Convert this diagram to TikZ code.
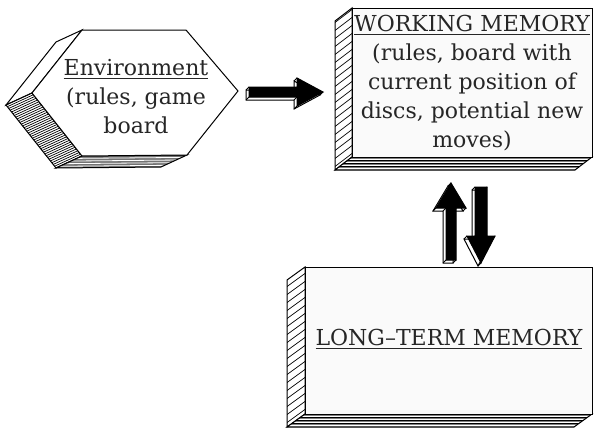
\documentclass[tikz,border=0pt]{standalone}
\usepackage{fontspec}
\setmainfont{DejaVu Serif}
\begin{document}
\begin{tikzpicture}[x=0.5pt,y=-0.5pt,
  edge/.style={line width=0.5pt, line join=miter},
  hatchline/.style={line width=0.35pt},
  pageline/.style={line width=0.4pt},
  lbl/.style={font=\fontsize{11}{14.5}\selectfont, align=center, inner sep=0pt, text=black!85},
]
\useasboundingbox (0,0) rectangle (594,428);

% ---------- Environment hexagon ----------
% face A (upper left side), white
\draw[edge, fill=white] (82,30) -- (32,93) -- (6,105) -- (56,42) -- cycle;
% face B (lower left side), hatched along depth
\begin{scope}
  \clip (32,93) -- (82,156) -- (56,168) -- (6,105) -- cycle;
  \fill[white] (0,80) rectangle (90,175);
  \foreach \i in {0,...,36}{
    \draw[hatchline] ({32+50*\i/36+6},{93+63*\i/36-2.8}) -- ++(-38,17.5);
  }
\end{scope}
\draw[edge] (32,93) -- (82,156) -- (56,168) -- (6,105) -- cycle;
% face C (bottom side), page stripes
\begin{scope}
  \clip (82,156) -- (187,155) -- (161,167) -- (56,168) -- cycle;
  \fill[black!55] (50,150) rectangle (195,175);
  \foreach \s in {0.2,0.42,0.64,0.86}{
    \draw[pageline, white] ({82-26*\s},{156+12*\s}) -- ({187-26*\s},{155+12*\s});
  }
\end{scope}
\draw[edge] (82,156) -- (187,155) -- (161,167) -- (56,168) -- cycle;
% front face
\draw[edge, fill=white] (82,30) -- (186,30) -- (238,91) -- (187,155) -- (82,156) -- (32,93) -- cycle;
\node[lbl] (env) at (136,96.5) {\underline{Environment}\\(rules, game\\board};

% ---------- Working memory slab ----------
\begin{scope}
  \clip (352,8) -- (352,157) -- (335,170) -- (335,21) -- cycle;
  \fill[white] (330,0) rectangle (355,175);
  \foreach \y in {0,8,...,184}{
    \draw[hatchline] (354,\y) -- (333,{\y+16});
  }
\end{scope}
\draw[edge] (352,8) -- (352,157) -- (335,170) -- (335,21) -- cycle;
\begin{scope}
  \clip (352,157) -- (592,157) -- (575,170) -- (335,170) -- cycle;
  \fill[black!50] (330,150) rectangle (594,175);
  \foreach \s in {0.15,0.4,0.65,0.88}{
    \draw[pageline, white] (330,{157+13*\s}) -- (594,{157+13*\s});
  }
  \foreach \s in {0.28,0.52,0.76}{
    \draw[pageline, black] (330,{157+13*\s}) -- (594,{157+13*\s});
  }
\end{scope}
\draw[edge] (352,157) -- (592,157) -- (575,170) -- (335,170) -- cycle;
\draw[edge, fill=gray!4] (352,8) rectangle (592,157);
\node[lbl] (wm) at (472,83) {\underline{WORKING MEMORY}\\(rules, board with\\current position of\\discs, potential new\\moves)};

% ---------- Long-term memory slab ----------
\begin{scope}
  \clip (305,267) -- (305,414) -- (287,427) -- (287,280) -- cycle;
  \fill[white] (280,260) rectangle (310,428);
  \foreach \y in {256,264,...,436}{
    \draw[hatchline] (307,\y) -- (285,{\y+16});
  }
\end{scope}
\draw[edge] (305,267) -- (305,414) -- (287,427) -- (287,280) -- cycle;
\begin{scope}
  \clip (305,414) -- (592,414) -- (574,427) -- (287,427) -- cycle;
  \fill[black!50] (280,410) rectangle (594,428);
  \foreach \s in {0.15,0.4,0.65,0.88}{
    \draw[pageline, white] (280,{414+13*\s}) -- (594,{414+13*\s});
  }
  \foreach \s in {0.28,0.52,0.76}{
    \draw[pageline, black] (280,{414+13*\s}) -- (594,{414+13*\s});
  }
\end{scope}
\draw[edge] (305,414) -- (592,414) -- (574,427) -- (287,427) -- cycle;
\draw[edge, fill=gray!4] (305,267) rectangle (592,414);
\node[lbl] (ltm) at (449,339) {\underline{LONG–TERM MEMORY}};

% ---------- block arrow: environment -> working memory ----------
\draw[edge, fill=white, shift={(-3,3)}] (249,87) -- (297,87) -- (297,78) -- (323,92) -- (297,106) -- (297,97) -- (249,97) -- cycle;
\foreach \x/\y in {249/87,297/78,323/92,297/106,297/97,249/97}{
  \draw[edge] (\x,\y) -- ++(-3,3);
}
\draw[edge, fill=black] (249,87) -- (297,87) -- (297,78) -- (323,92) -- (297,106) -- (297,97) -- (249,97) -- cycle;

% ---------- block arrow: long-term -> working (up) ----------
\draw[edge, fill=white, shift={(-3,3)}] (446,260) -- (446,208) -- (436,208) -- (451,183) -- (466,208) -- (456,208) -- (456,260) -- cycle;
\foreach \x/\y in {446/260,446/208,436/208,451/183,466/208,456/208,456/260}{
  \draw[edge] (\x,\y) -- ++(-3,3);
}
\draw[edge, fill=black] (446,260) -- (446,208) -- (436,208) -- (451,183) -- (466,208) -- (456,208) -- (456,260) -- cycle;

% ---------- block arrow: working -> long-term (down) ----------
\draw[edge, fill=white, shift={(-3,3)}] (475,187) -- (487,187) -- (487,236) -- (495,236) -- (481,263) -- (467,236) -- (475,236) -- cycle;
\foreach \x/\y in {475/187,487/187,487/236,495/236,481/263,467/236,475/236}{
  \draw[edge] (\x,\y) -- ++(-3,3);
}
\draw[edge, fill=black] (475,187) -- (487,187) -- (487,236) -- (495,236) -- (481,263) -- (467,236) -- (475,236) -- cycle;
\end{tikzpicture}
\end{document}
